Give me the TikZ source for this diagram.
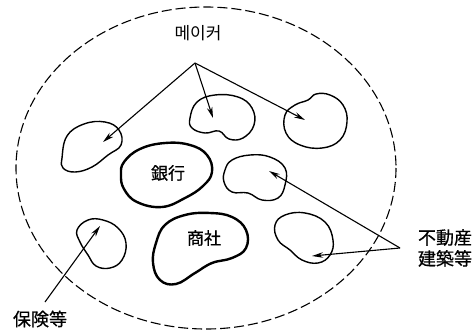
\documentclass[tikz,border=0pt]{standalone}
\usepackage{fontspec}
\newfontfamily\kr{Noto Sans CJK KR}
\newfontfamily\jp{Noto Sans CJK JP}[FakeBold=0.6]
\usetikzlibrary{arrows.meta}
\begin{document}
\begin{tikzpicture}[x=1pt,y=-1pt,
  blob/.style={draw=black,line width=1.4pt},
  thickblob/.style={draw=black,line width=2.4pt},
  arr/.style={draw=black,line width=1.1pt,-{Stealth[length=11pt,width=5.5pt]}},
  lbl/.style={inner sep=0pt}]
\useasboundingbox (0,0) rectangle (473,332);
% outer dashed ellipse
\draw[line width=1.1pt,dash pattern=on 10pt off 4pt] (206,168) ellipse [x radius=190, y radius=161];
% blobs
\draw[blob] plot[smooth cycle,tension=0.7] coordinates {(62,158) (67,136) (84,124) (105,122) (119,130) (121,145) (108,155) (92,167) (75,172) (63,168)};
\draw[blob] plot[smooth cycle,tension=0.7] coordinates {(190,118) (197,102) (215,95) (238,97) (252,108) (254,125) (243,138) (229,139) (219,131) (205,133) (192,128)};
\draw[blob] plot[smooth cycle,tension=0.7] coordinates {(285,115) (295,105) (308,100) (316,94) (330,95) (343,105) (347,122) (340,140) (322,148) (300,145) (286,133)};
\draw[thickblob] plot[smooth cycle,tension=0.7] coordinates {(124,162) (140,149) (165,143) (190,145) (207,155) (212,172) (203,186) (185,198) (162,207) (137,202) (124,189) (121,175)};
\draw[blob] plot[smooth cycle,tension=0.7] coordinates {(225,170) (232,160) (250,155) (270,157) (285,168) (285,185) (278,198) (262,200) (248,193) (232,192) (224,182)};
\draw[blob] plot[smooth cycle,tension=0.7] coordinates {(77,230) (88,220) (103,220) (118,228) (126,243) (122,260) (110,268) (96,266) (88,255) (80,242)};
\draw[thickblob] plot[smooth cycle,tension=0.7] coordinates {(156,243) (165,225) (185,215) (210,213) (232,217) (246,230) (246,248) (232,258) (212,263) (195,273) (176,284) (160,280) (153,263)};
\draw[blob] plot[smooth cycle,tension=0.7] coordinates {(275,225) (285,215) (305,213) (325,222) (333,240) (330,255) (318,263) (302,260) (290,250) (278,240)};
% labels
\node[lbl,font=\kr\fontsize{17}{20}\selectfont] (maker) at (198,33) {메이커};
\node[lbl,font=\jp\fontsize{17}{20}\selectfont] (bank) at (168,173) {銀行};
\node[lbl,font=\jp\fontsize{17}{20}\selectfont] (shosha) at (204,238) {商社};
\node[lbl,font=\jp\fontsize{18}{20}\selectfont] (hoken) at (40,319) {保険等};
\node[lbl,font=\jp\fontsize{18}{21}\selectfont,align=left] (fudo) at (445,248) {不動産\\建築等};
% arrow points
\coordinate (apex) at (195,63);
\coordinate (t1) at (103,142);
\coordinate (t2) at (213,118);
\coordinate (t3) at (305,120);
\coordinate (hs) at (45,302);
\coordinate (t4) at (100,226);
\coordinate (fa) at (400,248);
\coordinate (t5) at (269,171);
\coordinate (t6) at (312,256);
\draw[arr] (apex) -- (t1);
\draw[arr] (apex) -- (t2);
\draw[arr] (apex) -- (t3);
\draw[arr] (hs) -- (t4);
\draw[arr] (fa) -- (t5);
\draw[arr] (fa) -- (t6);
\end{tikzpicture}
\end{document}
